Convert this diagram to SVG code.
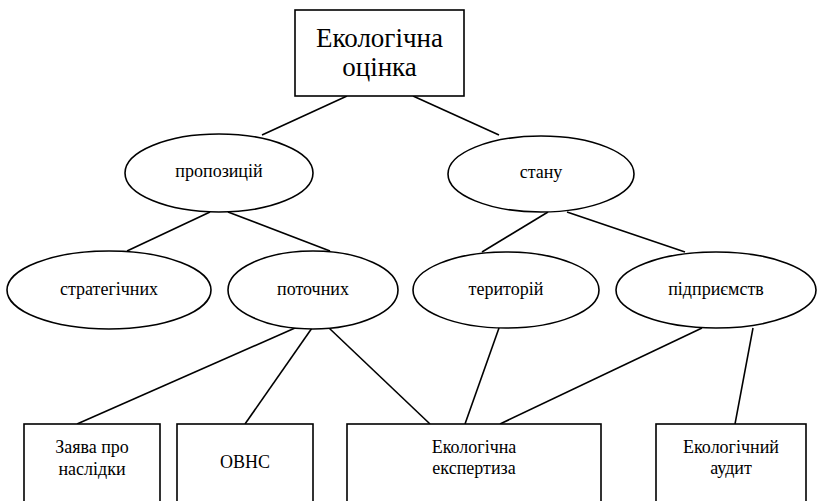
<svg xmlns="http://www.w3.org/2000/svg" width="817" height="501" viewBox="0 0 817 501">
<style>
.n{fill:#fff;stroke:#000;stroke-width:1.6}
.c line{stroke:#000;stroke-width:1.6}
</style>
<rect width="817" height="501" fill="#fff"/>
<g class="c" id="connectors">
<line x1="347" y1="96" x2="262" y2="135"/>
<line x1="413" y1="96" x2="499" y2="135"/>
<line x1="210" y1="212" x2="127" y2="251"/>
<line x1="228" y1="212" x2="330" y2="251"/>
<line x1="548" y1="212" x2="482" y2="252"/>
<line x1="567" y1="212" x2="685" y2="252"/>
<line x1="295" y1="328" x2="77" y2="424"/>
<line x1="312" y1="328" x2="245" y2="424"/>
<line x1="329" y1="328" x2="430" y2="424"/>
<line x1="499" y1="328" x2="465" y2="424"/>
<line x1="702" y1="328" x2="500" y2="424"/>
<line x1="753" y1="328" x2="735" y2="424"/>
</g>
<g id="root"><rect class="n" x="295" y="10" width="169" height="86"/><text font-family="'Liberation Serif', serif" font-size="27" text-anchor="middle" x="379.5" y="47">Екологічна</text><text font-family="'Liberation Serif', serif" font-size="27" text-anchor="middle" x="379.5" y="76">оцінка</text></g>
<g id="proposals"><ellipse class="n" cx="219" cy="173" rx="94" ry="39"/><text font-family="'Liberation Serif', serif" font-size="18" text-anchor="middle" x="219" y="177">пропозицій</text></g>
<g id="state"><ellipse class="n" cx="541" cy="174" rx="93" ry="38"/><text font-family="'Liberation Serif', serif" font-size="18" text-anchor="middle" x="541" y="178">стану</text></g>
<g id="strategic"><ellipse class="n" cx="109" cy="290" rx="102" ry="39"/><text font-family="'Liberation Serif', serif" font-size="18" text-anchor="middle" x="109" y="295">стратегічних</text></g>
<g id="current"><ellipse class="n" cx="313" cy="290" rx="85" ry="39"/><text font-family="'Liberation Serif', serif" font-size="18" text-anchor="middle" x="313" y="295">поточних</text></g>
<g id="territories"><ellipse class="n" cx="506" cy="290" rx="93" ry="38"/><text font-family="'Liberation Serif', serif" font-size="18" text-anchor="middle" x="506" y="295">територій</text></g>
<g id="enterprises"><ellipse class="n" cx="716" cy="290" rx="100" ry="38"/><text font-family="'Liberation Serif', serif" font-size="18" text-anchor="middle" x="716" y="295">підприємств</text></g>
<g id="statement"><rect class="n" x="24" y="424" width="136" height="85"/><text font-family="'Liberation Serif', serif" font-size="18" text-anchor="middle" x="92" y="453">Заява про</text><text font-family="'Liberation Serif', serif" font-size="18" text-anchor="middle" x="92" y="475">наслідки</text></g>
<g id="ovns"><rect class="n" x="177" y="424" width="136" height="85"/><text font-family="'Liberation Serif', serif" font-size="18" text-anchor="middle" x="245" y="468">ОВНС</text></g>
<g id="expertise"><rect class="n" x="347" y="424" width="254" height="85"/><text font-family="'Liberation Serif', serif" font-size="18" text-anchor="middle" x="474" y="453">Екологічна</text><text font-family="'Liberation Serif', serif" font-size="18" text-anchor="middle" x="474" y="474">експертиза</text></g>
<g id="audit"><rect class="n" x="656" y="424" width="150" height="85"/><text font-family="'Liberation Serif', serif" font-size="18" text-anchor="middle" x="731" y="453">Екологічний</text><text font-family="'Liberation Serif', serif" font-size="18" text-anchor="middle" x="731" y="474">аудит</text></g>
</svg>
